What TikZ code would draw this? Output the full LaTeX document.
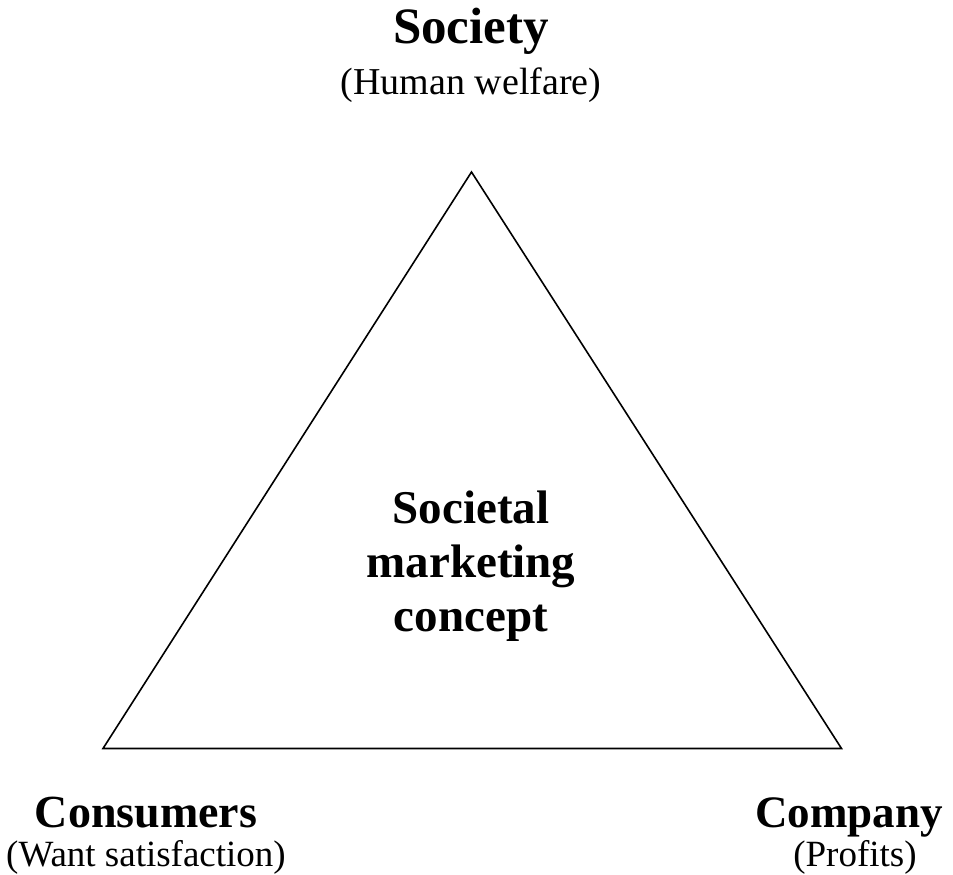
\documentclass[tikz,border=0pt]{standalone}
\usepackage{fontspec}
\setmainfont{Liberation Serif}
\usepackage{tikz}

\tikzset{
  head/.style={font=\bfseries\fontsize{46}{52}\selectfont, anchor=base},
  sub/.style={font=\fontsize{37}{42}\selectfont, anchor=base}
}

\begin{document}
\begin{tikzpicture}[x=1pt, y=-1pt]
  \useasboundingbox (0, 0) rectangle (953, 875);

  % corners of the triangle
  \coordinate (top) at (471.5, 172);
  \coordinate (left) at (103, 748.5);
  \coordinate (right) at (841.5, 748.5);
  \draw[line width=1.6pt, line join=miter] (top) -- (left) -- (right) -- cycle;

  \node[head, font=\bfseries\fontsize{51}{56}\selectfont] (society) at (471, 44) {Society};
  \node[sub, font=\fontsize{38}{44}\selectfont] (welfare) at (471, 95) {(Human welfare)};

  \node[align=center, font=\bfseries\fontsize{47}{54}\selectfont] (concept) at (471, 566)
    {Societal\\marketing\\concept};

  \node[head] (consumers) at (146, 827) {Consumers};
  \node[sub] (want) at (146, 866) {(Want satisfaction)};

  \node[head, font=\bfseries\fontsize{45}{52}\selectfont] (company) at (849, 827) {Company};
  \node[sub] (profits) at (855, 866) {(Profits)};
\end{tikzpicture}
\end{document}
